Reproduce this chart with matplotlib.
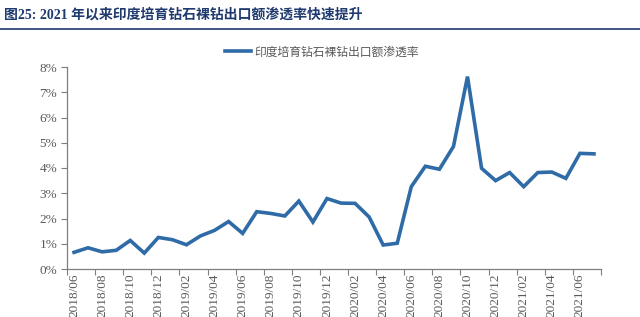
import matplotlib
matplotlib.use("Agg")
import matplotlib.pyplot as plt
from matplotlib.lines import Line2D

# months 2018/06 .. 2021/07
months = ["2018/06", "2018/07", "2018/08", "2018/09", "2018/10", "2018/11", "2018/12",
          "2019/01", "2019/02", "2019/03", "2019/04", "2019/05", "2019/06", "2019/07",
          "2019/08", "2019/09", "2019/10", "2019/11", "2019/12", "2020/01", "2020/02",
          "2020/03", "2020/04", "2020/05", "2020/06", "2020/07", "2020/08", "2020/09",
          "2020/10", "2020/11", "2020/12", "2021/01", "2021/02", "2021/03", "2021/04",
          "2021/05", "2021/06", "2021/07"]
# penetration rate, %
rate = [0.66, 0.84, 0.68, 0.74, 1.13, 0.63, 1.25, 1.16, 0.96, 1.31, 1.53, 1.88,
        1.41, 2.27, 2.20, 2.10, 2.69, 1.86, 2.79, 2.61, 2.60, 2.06, 0.95, 1.02,
        3.26, 4.07, 3.95, 4.85, 7.62, 3.99, 3.50, 3.82, 3.26, 3.82, 3.84, 3.59,
        4.58, 4.56]
yticks = [0, 1, 2, 3, 4, 5, 6, 7, 8]

title = "图25: 2021 年以来印度培育钻石裸钻出口额渗透率快速提升"
series_name = "印度培育钻石裸钻出口额渗透率"

line_color = "#2F6BA6"
navy = "#1F3A6E"
grey = "#595959"
axis_grey = "#7F7F7F"
fam = ["Liberation Serif", "Noto Sans CJK SC"]

fig = plt.figure(figsize=(6.4, 3.17), dpi=100)
ax = fig.add_axes([67/640, 48/317, 534/640, 202/317])

x = list(range(len(months)))
ax.plot(x, rate, color=line_color, lw=2.6, solid_joinstyle="miter")

ax.set_xlim(-0.5, len(months) - 0.5)
ax.set_ylim(0, 8)

# ticks at category boundaries every 2 months, labels under every other month
ax.set_xticks([i - 0.5 for i in range(0, len(months) + 1, 2)])
ax.set_xticklabels([])
ax.set_xticks(x[::2], minor=True)
ax.set_xticklabels(months[::2], minor=True, rotation=90, fontsize=9.5,
                   family=fam, color=grey)
ax.tick_params(axis="x", which="major", length=4, color=axis_grey, direction="out")
ax.tick_params(axis="x", which="minor", length=0, pad=3)

ax.set_yticks(yticks)
ax.set_yticklabels([f"{v}%" for v in yticks], fontsize=9.5, family=fam, color=grey)
ax.tick_params(axis="y", length=4, color=axis_grey, direction="out", pad=3)

for s in ["top", "right"]:
    ax.spines[s].set_visible(False)
for s in ["left", "bottom"]:
    ax.spines[s].set_color(axis_grey)
    ax.spines[s].set_linewidth(0.9)

# legend
handle = Line2D([0], [0], color=line_color, lw=2.6)
fig.legend([handle], [series_name], loc="center", bbox_to_anchor=(322/640, 1 - 52/317),
           frameon=False, handlelength=2.2, handletextpad=0.3,
           prop={"family": "Noto Sans CJK SC", "size": 8.5}, labelcolor=grey)

# title and rule under it
fig.text(4/640, 1 - 15/317, title, fontsize=10, fontweight="bold", color=navy,
         family=fam, va="center", ha="left")
fig.add_artist(Line2D([0, 1], [1 - 29/317, 1 - 29/317], color=navy, lw=1.2))

fig.savefig("out.png", dpi=100)
